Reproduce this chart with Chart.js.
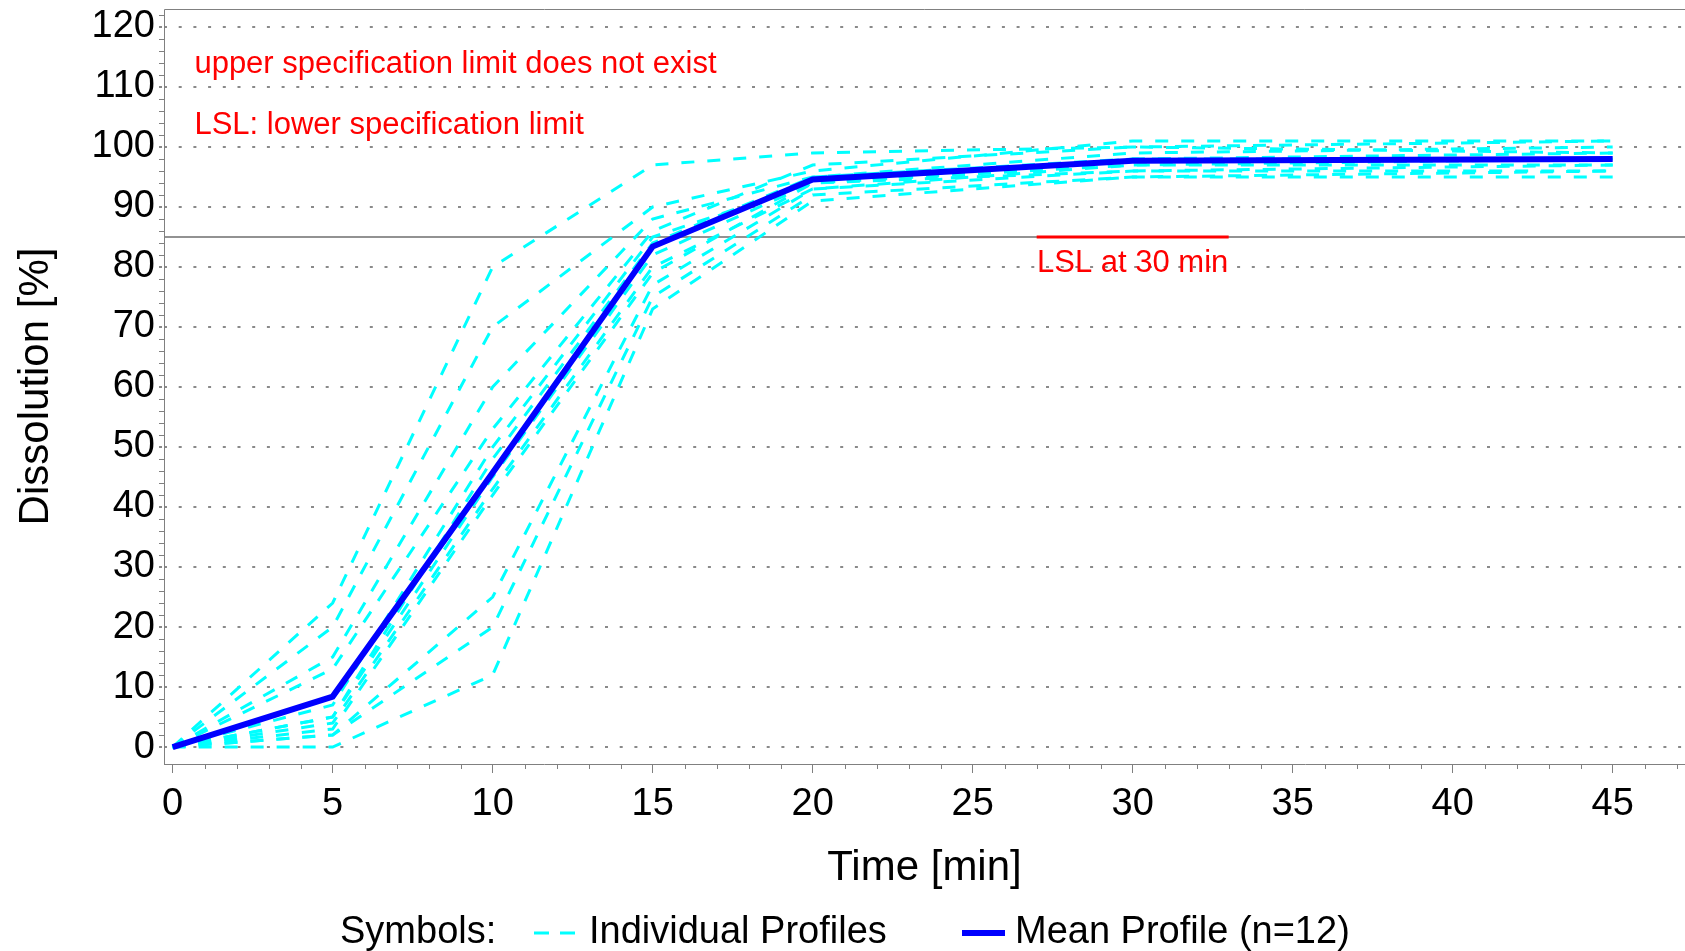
<!DOCTYPE html>
<html lang="en">
<head>
<meta charset="UTF-8">
<title>Dissolution profiles</title>
<script src="https://cdn.jsdelivr.net/npm/chart.js"></script>
<style>
  body { margin: 0; background: #fff; }
  #wrap { width: 1685px; height: 951px; position: relative; }
</style>
</head>
<body>
<div id="wrap"><canvas id="chart"></canvas></div>
<script>
// sampling times (min)
const times = [0, 5, 10, 15, 20, 30, 45];

// individual dissolution profiles (%)
const profile1  = [0, 24, 80, 97, 99, 100, 101];
const profile2  = [0, 20, 70, 90, 96, 101, 101];
const profile3  = [0, 15, 60, 88, 95, 99, 100];
const profile4  = [0, 13, 53, 86, 97, 100, 99];
const profile5  = [0, 7, 50, 85, 94, 98, 99];
const profile6  = [0, 5, 48, 84, 95, 98, 98];
const profile7  = [0, 5, 45, 82, 94, 97, 98];
const profile8  = [0, 4, 43, 80, 93, 97, 97];
const profile9  = [0, 3, 42, 79, 94, 96, 97];
const profile10 = [0, 2, 25, 77, 93, 96, 96];
const profile11 = [0, 2, 20, 75, 92, 95, 96];
const profile12 = [0, 0, 12, 73, 91, 95, 95];

// mean profile (n=12)
const meanProfile = [0, 8.4, 45.7, 83.4, 94.6, 97.7, 98.0];

// axis ticks
const xTicks = [0, 5, 10, 15, 20, 25, 30, 35, 40, 45];
const yTicks = [0, 10, 20, 30, 40, 50, 60, 70, 80, 90, 100, 110, 120];

// lower specification limit
const lsl = 85;
const lslRange = [27, 33];

// text notes, anchored in data units
const noteTexts = ['upper specification limit does not exist', 'LSL: lower specification limit', 'LSL at 30 min'];
const noteX = [0.68, 0.68, 30];
const noteY = [113.7, 103.6, 80.6];
const noteAlign = ['left', 'left', 'center'];

const FONT = "'Liberation Sans', Arial, sans-serif";
const GRAY = '#808080';

const profiles = [profile1, profile2, profile3, profile4, profile5, profile6,
                  profile7, profile8, profile9, profile10, profile11, profile12];

function toPoints(vals) {
    return times.map((t, i) => ({ x: t, y: vals[i] }));
}

const datasets = [];
datasets.push({
    label: 'Mean Profile (n=12)',
    data: toPoints(meanProfile),
    borderColor: '#0000ff',
    borderWidth: 6,
    pointRadius: 0,
    tension: 0,
    order: 0
});
profiles.forEach((p, i) => {
    datasets.push({
        label: 'Profile ' + (i + 1),
        data: toPoints(p),
        borderColor: '#00ffff',
        borderWidth: 3,
        borderDash: [13, 13],
        pointRadius: 0,
        tension: 0,
        order: 1
    });
});
datasets.push({
    label: 'LSL',
    data: lslRange.map(t => ({ x: t, y: lsl })),
    borderColor: '#ff0000',
    borderWidth: 3,
    pointRadius: 0,
    order: 0
});

// gray LSL line across the plot + frame lines
const limitLine = {
    id: 'limitLine',
    beforeDatasetsDraw(chart) {
        const { ctx, chartArea, scales } = chart;
        const py = scales.y.getPixelForValue(lsl);
        ctx.save();
        ctx.strokeStyle = '#6e6e6e';
        ctx.lineWidth = 1.5;
        ctx.beginPath();
        ctx.moveTo(chartArea.left, py);
        ctx.lineTo(chartArea.right, py);
        ctx.stroke();
        ctx.strokeStyle = GRAY;
        ctx.lineWidth = 1;
        ctx.beginPath();
        ctx.moveTo(chartArea.right, chartArea.top + 0.5);
        ctx.lineTo(chartArea.left + 0.5, chartArea.top + 0.5);
        ctx.lineTo(chartArea.left + 0.5, chartArea.bottom);
        ctx.stroke();
        ctx.restore();
    }
};

// minor tick marks
const minorTicks = {
    id: 'minorTicks',
    afterDraw(chart) {
        const { ctx, chartArea, scales: { x, y } } = chart;
        ctx.save();
        ctx.strokeStyle = GRAY;
        ctx.lineWidth = 1;
        ctx.beginPath();
        for (let v = 1; v <= 47; v++) {
            if (v % 5 === 0) continue;
            const px = Math.round(x.getPixelForValue(v)) + 0.5;
            ctx.moveTo(px, chartArea.bottom);
            ctx.lineTo(px, chartArea.bottom + 5);
        }
        for (let v = 2; v <= 122; v += 2) {
            if (v % 10 === 0) continue;
            const py = Math.round(y.getPixelForValue(v)) + 0.5;
            ctx.moveTo(chartArea.left - 5, py);
            ctx.lineTo(chartArea.left, py);
        }
        ctx.stroke();
        ctx.restore();
    }
};

// red notes
const notes = {
    id: 'notes',
    afterDraw(chart) {
        const { ctx, scales: { x, y } } = chart;
        ctx.save();
        ctx.fillStyle = '#ff0000';
        ctx.font = '31px ' + FONT;
        ctx.textBaseline = 'middle';
        noteTexts.forEach((t, i) => {
            ctx.textAlign = noteAlign[i];
            ctx.fillText(t, x.getPixelForValue(noteX[i]), y.getPixelForValue(noteY[i]));
        });
        ctx.restore();
    }
};

// legend row at the bottom
const symbolLegend = {
    id: 'symbolLegend',
    afterDraw(chart) {
        const { ctx } = chart;
        const ly = 933;
        ctx.save();
        ctx.fillStyle = '#000';
        ctx.font = '38px ' + FONT;
        ctx.textBaseline = 'middle';
        ctx.textAlign = 'left';
        ctx.fillText('Symbols:', 340, ly);
        ctx.fillText('Individual Profiles', 589, ly);
        ctx.fillText('Mean Profile (n=12)', 1015, ly);

        ctx.strokeStyle = '#00ffff';
        ctx.lineWidth = 3;
        ctx.setLineDash([15, 11]);
        ctx.beginPath();
        ctx.moveTo(534, ly);
        ctx.lineTo(575, ly);
        ctx.stroke();

        ctx.setLineDash([]);
        ctx.strokeStyle = '#0000ff';
        ctx.lineWidth = 6;
        ctx.beginPath();
        ctx.moveTo(962, ly);
        ctx.lineTo(1005, ly);
        ctx.stroke();
        ctx.restore();
    }
};

new Chart(document.getElementById('chart'), {
    type: 'line',
    data: { datasets: datasets },
    options: {
        responsive: true,
        maintainAspectRatio: false,
        animation: false,
        layout: { padding: { top: 9, right: 0, bottom: 59, left: 0 } },
        plugins: {
            legend: { display: false },
            tooltip: { enabled: false }
        },
        scales: {
            x: {
                type: 'linear',
                min: -0.27,
                max: 47.26,
                afterBuildTicks: s => { s.ticks = xTicks.map(v => ({ value: v })); },
                afterFit: s => { s.height = 128; s.paddingLeft = 0; s.paddingRight = 0; },
                grid: { drawOnChartArea: false, drawTicks: true, tickLength: 9, color: GRAY, lineWidth: 1 },
                border: { display: true, color: GRAY, width: 1 },
                ticks: {
                    font: { family: FONT, size: 38 },
                    color: '#000',
                    padding: 9,
                    maxRotation: 0,
                    autoSkip: false
                },
                title: {
                    display: true,
                    text: 'Time [min]',
                    font: { family: FONT, size: 42, lineHeight: 1.1 },
                    color: '#000',
                    padding: 0
                }
            },
            y: {
                min: -2.83,
                max: 123,
                afterBuildTicks: s => { s.ticks = yTicks.map(v => ({ value: v })); },
                afterFit: s => { s.width = 164; s.paddingTop = 0; s.paddingBottom = 0; },
                grid: {
                    color: '#8a8a8a',
                    lineWidth: 2,
                    tickBorderDash: [3, 11.7],
                    tickLength: 5
                },
                border: { display: false, dash: [3, 11.7] },
                ticks: {
                    font: { family: FONT, size: 38 },
                    color: '#000',
                    padding: 4,
                    autoSkip: false
                },
                title: {
                    display: true,
                    text: 'Dissolution [%]',
                    font: { family: FONT, size: 42 },
                    color: '#000',
                    padding: { top: 11, bottom: 0 }
                }
            }
        }
    },
    plugins: [limitLine, minorTicks, notes, symbolLegend]
});
</script>
</body>
</html>
